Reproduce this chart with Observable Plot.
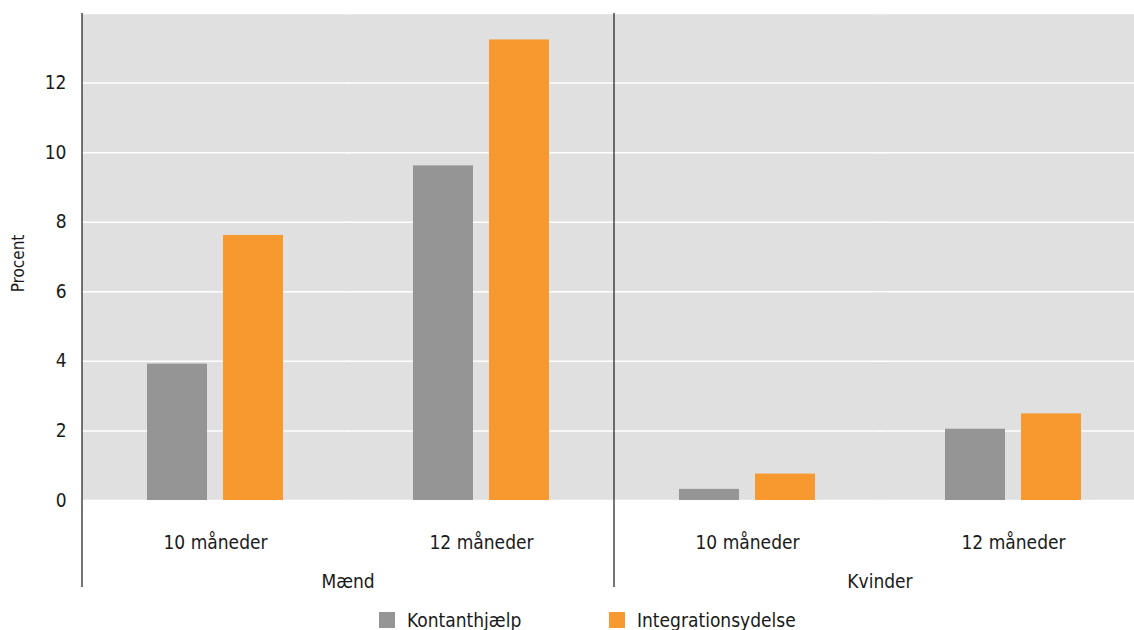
<!DOCTYPE html>
<html><head><meta charset="utf-8">
<script src="https://cdn.jsdelivr.net/npm/d3@7"></script>
<script src="https://cdn.jsdelivr.net/npm/@observablehq/plot@0.6"></script>
<style>
body{margin:0;background:#fff;overflow:hidden;font-family:"DejaVu Sans Condensed","DejaVu Sans",sans-serif;font-stretch:condensed;color:#1a1a1a;}
#legend{position:relative;height:30px;}
.item{position:absolute;top:12px;display:flex;align-items:center;font-size:19px;line-height:16px;}
.sw{width:16px;height:16px;margin-right:12px;flex:none}
</style></head><body><div id="chart"></div><div id="legend"></div>
<script>
const groups = ["Mænd", "Kvinder"];
const months = ["10 måneder", "12 måneder"];
const seriesNames = ["Kontanthjælp", "Integrationsydelse"];
// order: Mænd 10, Mænd 12, Kvinder 10, Kvinder 12
const kontanthjaelp = [3.92, 9.62, 0.32, 2.05];
const integrationsydelse = [7.62, 13.24, 0.76, 2.49];
const yTicks = [0, 2, 4, 6, 8, 10, 12];
const gridTicks = [0, 2, 4, 6, 8, 10, 12, 14];
const colors = ["#959595", "#f7992e"];
const yLabel = "Procent";

const keys = groups.flatMap(g => months.map(m => g + "|" + m));
const data = keys.flatMap((k, i) => [
  {key: k, series: seriesNames[0], value: kontanthjaelp[i]},
  {key: k, series: seriesNames[1], value: integrationsydelse[i]}
]);

const FONT = '"DejaVu Sans Condensed","DejaVu Sans",sans-serif';

const plot = Plot.plot({
  width: 1134,
  height: 600,
  marginLeft: 82,
  marginRight: -12,
  marginTop: 13,
  marginBottom: 100,
  style: {fontSize: "19px", fontFamily: FONT, color: "#1a1a1a", background: "transparent", overflow: "hidden"},
  fx: {domain: keys, padding: 0, axis: "bottom", tickSize: 0, tickPadding: 35,
       tickFormat: d => d.split("|")[1], label: null},
  x: {domain: seriesNames, paddingInner: 0.21, paddingOuter: 0.855, axis: null},
  y: {domain: [0, 14], axis: "left", ticks: yTicks, tickSize: 0, tickPadding: 16,
      tickFormat: d => String(d), label: null},
  color: {domain: seriesNames, range: colors},
  marks: [
    Plot.frame({fill: "#e0e0e0", stroke: "#e0e0e0", strokeWidth: 1}),
    Plot.gridY(gridTicks, {stroke: "#ffffff", strokeOpacity: 1, strokeWidth: 1.5, insetLeft: -1, insetRight: -1}),
    Plot.barY(data, {fx: "key", x: "series", y: "value", fill: "series"})
  ]
});

// group dividers, group labels and y label, positioned with the plot's own scales
const fxScale = plot.scale("fx");
const yScale = plot.scale("y");
const bw = fxScale.bandwidth;
const svgSel = d3.select(plot);
const extra = svgSel.append("g").attr("font-family", FONT).attr("font-size", 19).attr("fill", "#1a1a1a");
const yTopPx = yScale.apply(14), yZeroPx = yScale.apply(0);
groups.forEach(gr => {
  const x0 = fxScale.apply(gr + "|" + months[0]);
  extra.append("line").attr("x1", x0).attr("x2", x0).attr("y1", yTopPx).attr("y2", yZeroPx + 87)
    .attr("stroke", "#1a1a1a").attr("stroke-width", 1.2);
  extra.append("text").attr("x", x0 + bw).attr("y", yZeroPx + 81).attr("dy", "0.35em")
    .attr("text-anchor", "middle").text(gr);
});
extra.append("text").attr("transform", `translate(18,${(yZeroPx + yTopPx) / 2 + 7}) rotate(-90)`)
  .attr("text-anchor", "middle").attr("dy", "0.35em").attr("font-size", 17).text(yLabel);

document.getElementById("chart").append(plot);

const legend = document.getElementById("legend");
const lefts = [379, 609];
seriesNames.forEach((s, i) => {
  const it = document.createElement("div");
  it.className = "item";
  it.style.left = lefts[i] + "px";
  const sw = document.createElement("span");
  sw.className = "sw"; sw.style.background = colors[i];
  const t = document.createElement("span"); t.textContent = s;
  it.append(sw, t); legend.append(it);
});
</script></body></html>
